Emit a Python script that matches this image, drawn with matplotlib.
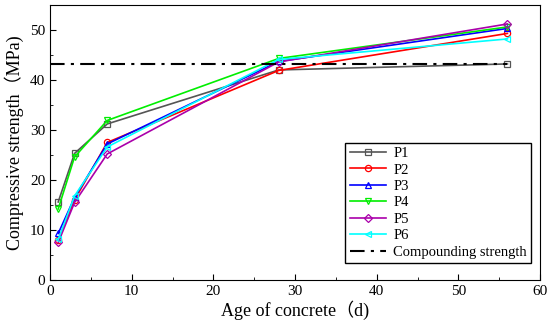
import matplotlib.pyplot as plt

plt.rcParams['font.family'] = ['Liberation Serif', 'Noto Sans CJK SC']

age = [1, 3, 7, 28, 56]
series = {
    'P1': [15.6, 25.3, 31.2, 42.0, 43.2],
    'P2': [8.0, 16.0, 27.5, 41.9, 49.3],
    'P3': [9.3, 16.5, 27.2, 43.7, 50.3],
    'P4': [14.2, 24.6, 31.9, 44.3, 50.6],
    'P5': [7.5, 15.5, 25.2, 43.6, 51.2],
    'P6': [8.1, 16.8, 26.6, 44.1, 48.2],
}
compounding = 43.2

colors = ['#555555', '#ff0000', '#0000ff', '#00ee00', '#aa00aa', '#00ffff']
markers = ['s', 'o', '^', 'v', 'D', '<']

fig = plt.figure(figsize=(5.5, 3.29), dpi=100)
ax = fig.add_axes([0.091, 0.149, 0.891, 0.836])

for (name, vals), c, m in zip(series.items(), colors, markers):
    ms = 3.8 if m == 'D' else 4.5
    ax.plot(age, vals, color=c, marker=m, markersize=ms, markerfacecolor='none',
            markeredgewidth=0.9, linewidth=1.2, label=name)

ax.plot([0, 56], [compounding, compounding], color='black', linestyle=(0, (7, 3, 1.5, 3)),
        linewidth=1.5, label='Compounding strength')

ax.set_xlim(0, 60)
ax.set_ylim(0, 55)
ax.set_xticks(range(0, 61, 10))
ax.set_xticks(range(5, 60, 10), minor=True)
ax.set_yticks(range(0, 51, 10))
ax.set_yticks(range(5, 55, 10), minor=True)
ax.tick_params(which='both', direction='in', labelsize=11)
ax.tick_params(which='major', length=4)
ax.tick_params(which='minor', length=2.5)
ax.set_xlabel('Age of concrete（d)', fontsize=13, labelpad=2)
ax.set_ylabel('Compressive strength（MPa)', fontsize=13, labelpad=4)

ax.legend(loc='lower right', bbox_to_anchor=(0.997, 0.035), fontsize=10.5, frameon=True,
          fancybox=False, edgecolor='black', framealpha=1, handlelength=2.5,
          labelspacing=0.22, borderpad=0.3, handletextpad=0.5)

fig.savefig('out.png', dpi=100)
